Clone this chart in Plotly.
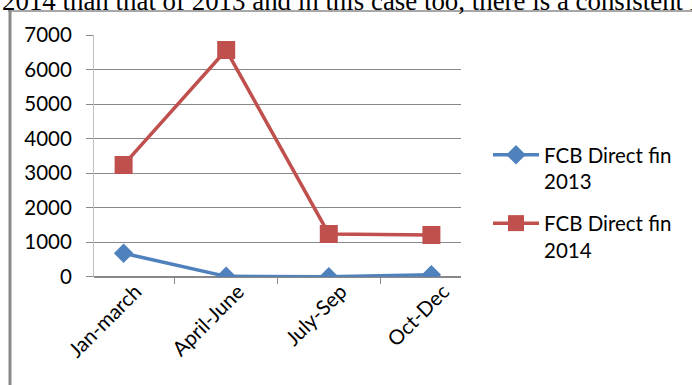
import plotly.graph_objects as go

# Quarterly FCB direct finance figures
quarters = ["Jan-march", "April-June", "July-Sep", "Oct-Dec"]
fin_2013 = [680, 10, 0, 60]
fin_2014 = [3240, 6570, 1240, 1210]
y_ticks = [0, 1000, 2000, 3000, 4000, 5000, 6000, 7000]

W, H = 692, 385
FONT = "Lato"
FS = 20.5


def px_x(x):
    return x / W


def px_y(y):
    return 1 - y / H


fig = go.Figure()
fig.add_trace(go.Scatter(
    x=quarters, y=fin_2013, mode="lines+markers",
    name="FCB Direct fin<br>2013", legendgroup="y2013",
    line=dict(color="#4F81BD", width=3.5),
    marker=dict(symbol="diamond", size=15, color="#4F81BD"),
))
fig.add_trace(go.Scatter(
    x=quarters, y=fin_2014, mode="lines+markers",
    name="FCB Direct fin<br>2014", legendgroup="y2014",
    line=dict(color="#C0504D", width=3.5),
    marker=dict(symbol="square", size=18, color="#C0504D"),
))

fig.update_layout(
    width=W, height=H,
    margin=dict(l=0, r=0, t=0, b=0, autoexpand=False),
    paper_bgcolor="white", plot_bgcolor="white",
    font=dict(family=FONT, size=FS, color="#000"),
    showlegend=True,
    legend=dict(
        x=px_x(488), y=px_y(135), xanchor="left", yanchor="top",
        font=dict(family=FONT, size=FS, color="#000"),
        tracegroupgap=12, valign="top", itemwidth=46,
        bgcolor="rgba(0,0,0,0)",
    ),
    xaxis=dict(
        domain=[px_x(94), px_x(461)],
        type="category", tickson="boundaries", automargin=False,
        ticks="outside", ticklen=6, tickcolor="#888", tickwidth=1,
        showgrid=False, showline=False, zeroline=False,
        tickangle=-45, ticklabelshift=12, ticklabelstandoff=-2,
        tickfont=dict(family=FONT, size=FS),
    ),
    yaxis=dict(
        domain=[px_y(276.7), px_y(35.2)], automargin=False,
        range=[0, 7000], tickvals=y_ticks,
        ticks="outside", ticklen=7, tickcolor="#888", tickwidth=1,
        showgrid=True, gridcolor="#888", gridwidth=1,
        showline=True, linecolor="#c0c0c0", linewidth=1,
        zeroline=True, zerolinecolor="#888", zerolinewidth=1.5,
        ticklabelstandoff=10,
        tickfont=dict(family=FONT, size=FS),
    ),
    shapes=[
        dict(type="line", xref="paper", yref="paper",
             x0=px_x(8), x1=1, y0=px_y(11), y1=px_y(11),
             line=dict(color="#8a8a8a", width=1.5)),
        dict(type="line", xref="paper", yref="paper",
             x0=px_x(10), x1=px_x(10), y0=0, y1=px_y(10),
             line=dict(color="#8a8a8a", width=3)),
    ],
    annotations=[
        dict(text="2014 than that of 2013 and in this case too, there is a consistent increase",
             xref="paper", yref="paper", x=0, y=px_y(18), xanchor="left", yanchor="bottom",
             showarrow=False, align="left",
             font=dict(family="Liberation Serif", size=26.9, color="#000")),
    ],
)

fig.write_html("out.html")
